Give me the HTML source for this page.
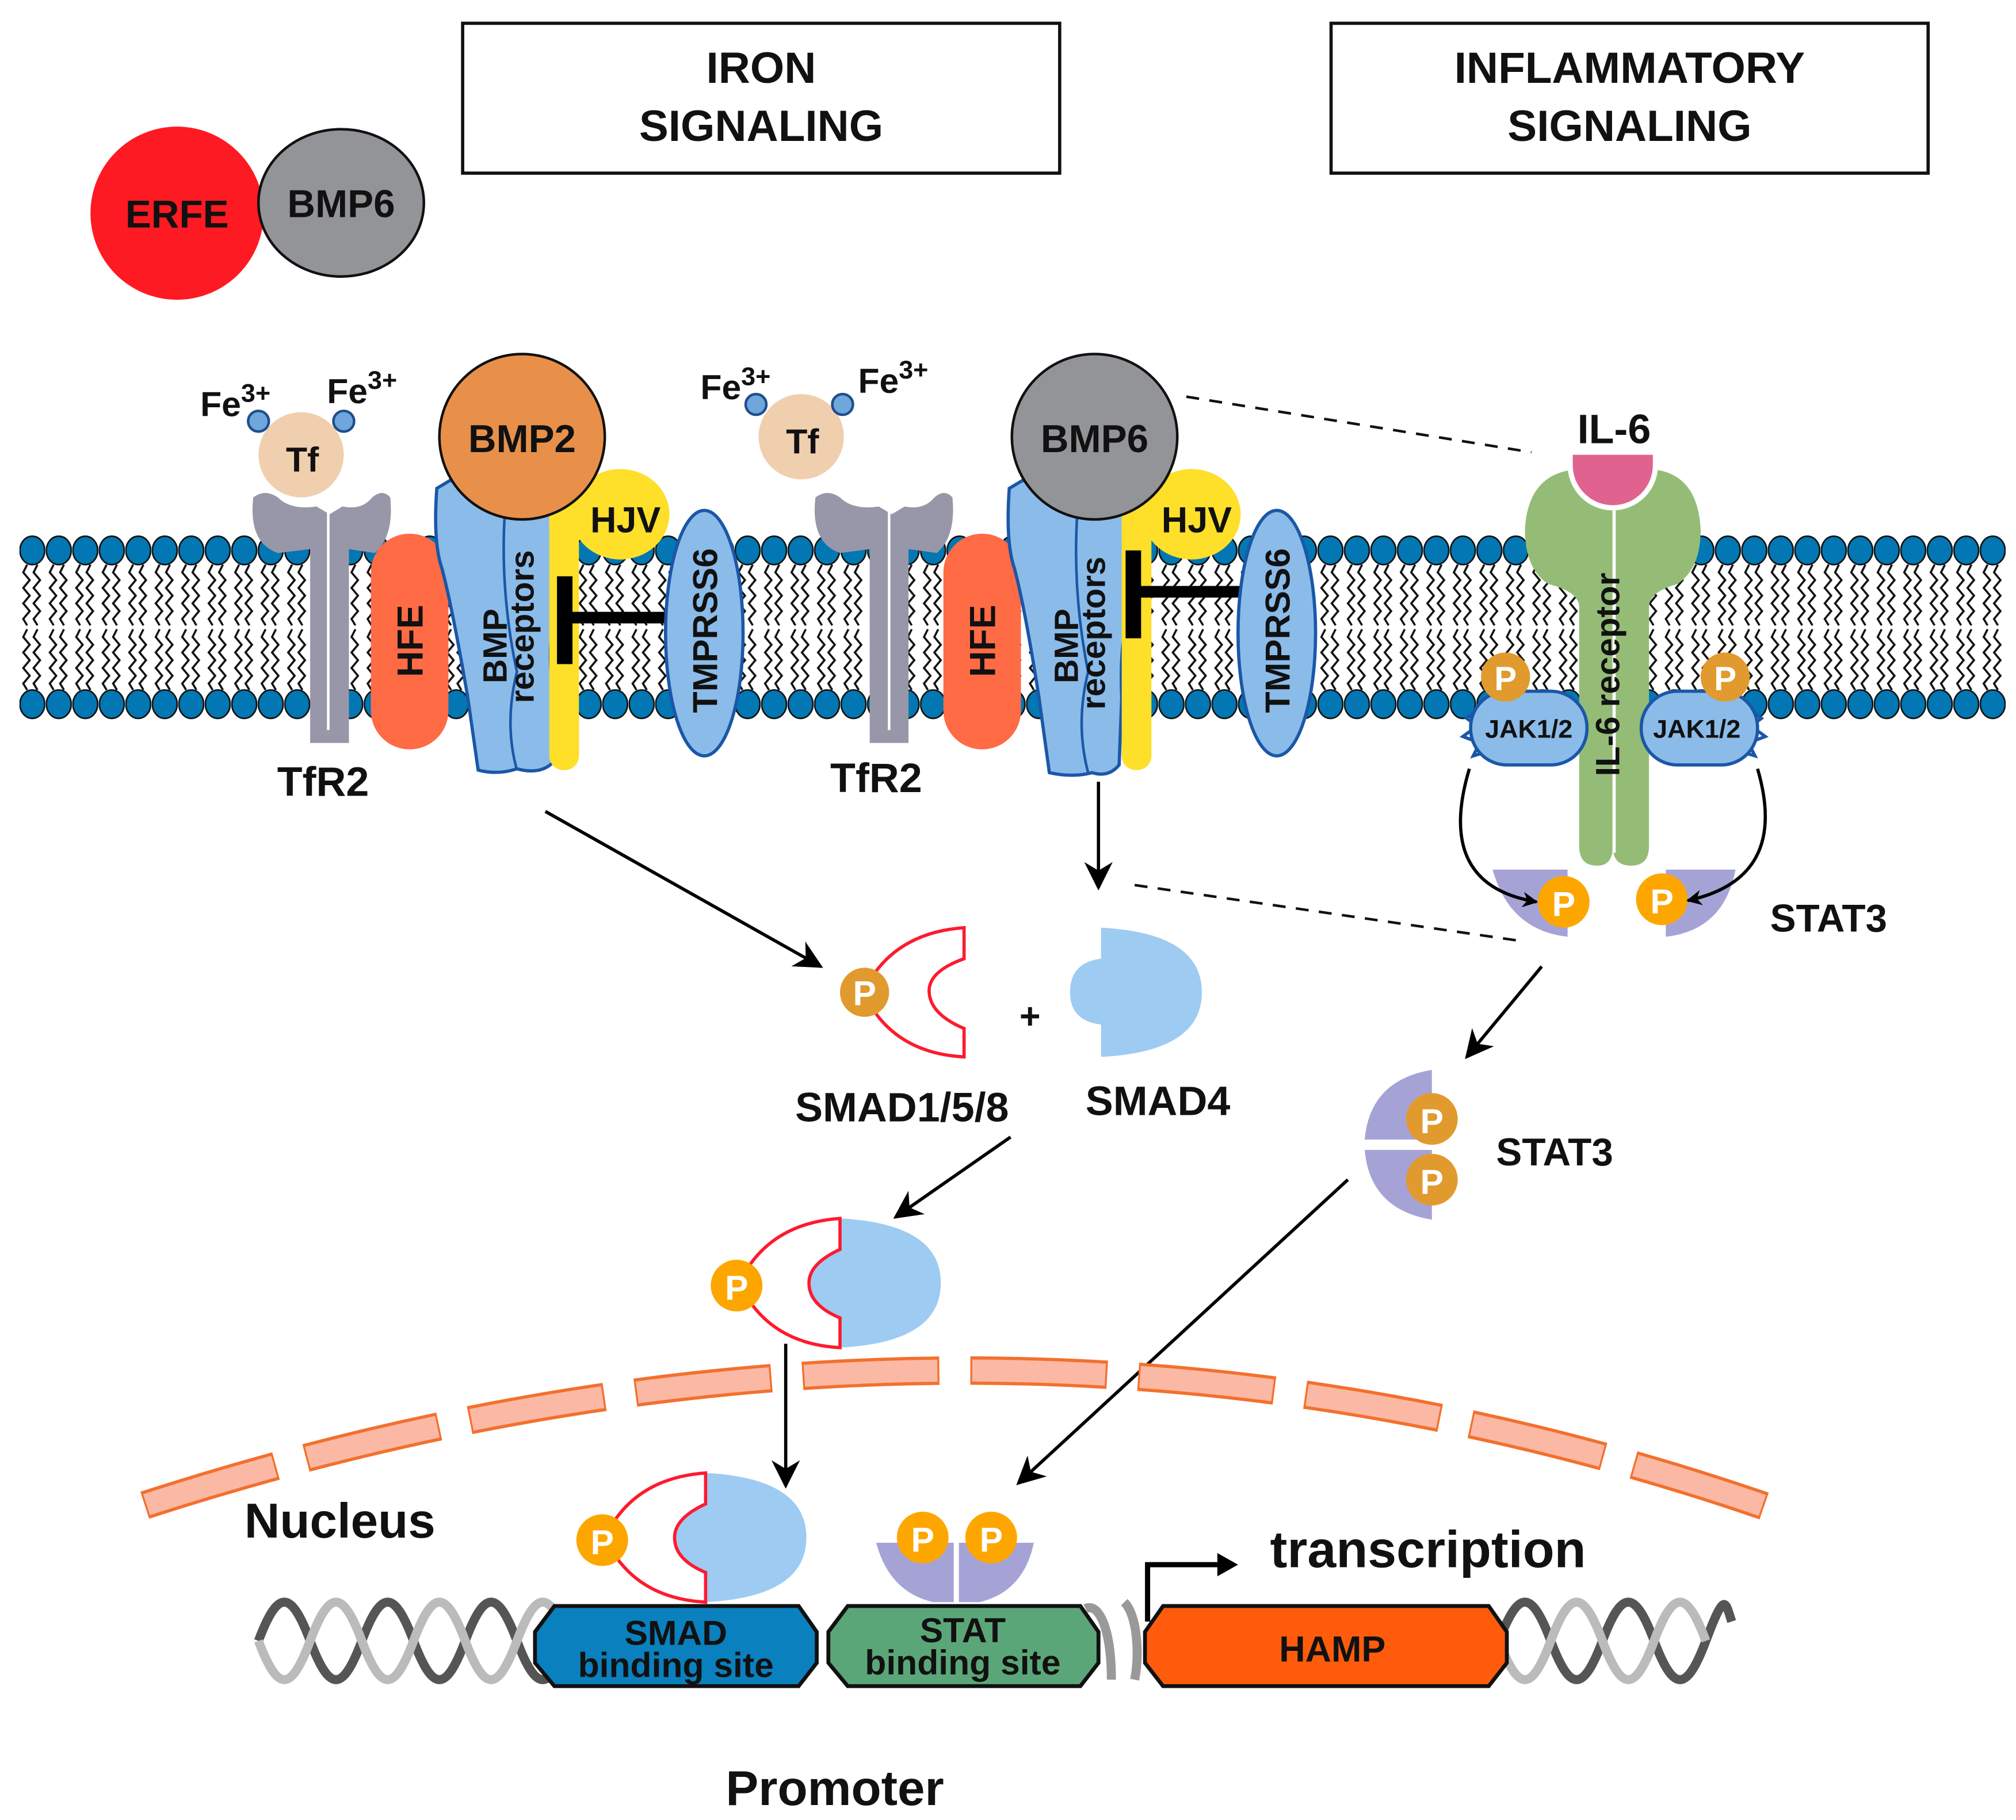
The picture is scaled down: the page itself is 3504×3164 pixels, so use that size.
<!DOCTYPE html>
<html><head><meta charset="utf-8"><style>
html,body{margin:0;padding:0;background:#fff}
svg{display:block}
text{font-family:"Liberation Sans",sans-serif;font-weight:bold;fill:#111}
</style></head><body>
<svg width="3504" height="3164" viewBox="0 0 1560 1408.6" xmlns="http://www.w3.org/2000/svg">
<defs>
<pattern id="mem" x="15" y="410" width="20.5" height="150" patternUnits="userSpaceOnUse">
<g fill="none" stroke="#111" stroke-width="1.6">
<path d="M6,27 L3,33 L8,39 L3,45 L8,51 L3,57 L8,63 L3,69 L6,74"/>
<path d="M14,27 L11,33 L16,39 L11,45 L16,51 L11,57 L16,63 L11,69 L14,74"/>
<path d="M6,77 L3,83 L8,89 L3,95 L8,101 L3,107 L8,113 L3,119 L6,124"/>
<path d="M14,77 L11,83 L16,89 L11,95 L16,101 L11,107 L16,113 L11,119 L14,124"/>
</g>
<ellipse cx="10" cy="16" rx="9.6" ry="11" fill="#0277b3" stroke="#111" stroke-width="1.2"/>
<ellipse cx="10" cy="135" rx="9.6" ry="11" fill="#0277b3" stroke="#111" stroke-width="1.2"/>
</pattern>
<marker id="ah" viewBox="0 0 10 10" refX="9" refY="5" markerWidth="12" markerHeight="12" orient="auto" markerUnits="userSpaceOnUse"><path d="M0,0 L10,5 L0,10 L3,5Z" fill="#000"/></marker>
<marker id="ah2" viewBox="0 0 10 10" refX="9" refY="5" markerWidth="22" markerHeight="22" orient="auto" markerUnits="userSpaceOnUse"><path d="M0,0 L10,5 L0,10 L3,5Z" fill="#000"/></marker>
</defs>

<rect x="358" y="18" width="462" height="116" fill="#fff" stroke="#111" stroke-width="2.5"/>
<text x="589" y="64" font-size="34" text-anchor="middle">IRON</text>
<text x="589" y="109" font-size="34" text-anchor="middle">SIGNALING</text>
<rect x="1030" y="18" width="462" height="116" fill="#fff" stroke="#111" stroke-width="2.5"/>
<text x="1261" y="64" font-size="34" text-anchor="middle">INFLAMMATORY</text>
<text x="1261" y="109" font-size="34" text-anchor="middle">SIGNALING</text>

<circle cx="137" cy="165" r="67" fill="#fe1a22"/>
<ellipse cx="264" cy="157" rx="64" ry="57" fill="#929497" stroke="#111" stroke-width="2"/>
<text x="137" y="176" font-size="30" text-anchor="middle">ERFE</text>
<text x="264" y="168" font-size="30" text-anchor="middle">BMP6</text>

<rect x="15" y="410" width="1537" height="150" fill="url(#mem)"/>

<path d="M918,307 L1185,350" stroke="#111" stroke-width="2" stroke-dasharray="10,8" fill="none"/>
<path d="M878,685 L1175,728" stroke="#111" stroke-width="2" stroke-dasharray="10,8" fill="none"/>

<g>
<path d="M196,385 Q192,420 215,428 L240,425 L240,575 L270,575 L270,425 L290,428 Q305,415 302,385 Q296,378 288,385 Q280,395 265,392 L255,398 L245,392 Q225,395 215,385 Q205,378 196,385Z" fill="#9797a9"/>
<path d="M254,396 L254,565" stroke="#fff" stroke-width="2"/>
<circle cx="233" cy="352" r="33" fill="#f0cfae"/>
<text x="234" y="365" font-size="27" text-anchor="middle">Tf</text>
<circle cx="200" cy="326" r="8" fill="#6fa7dd" stroke="#1f4e8c" stroke-width="2"/>
<circle cx="266" cy="326" r="8" fill="#6fa7dd" stroke="#1f4e8c" stroke-width="2"/>
<text x="155" y="322" font-size="27">Fe<tspan font-size="20" dy="-11">3+</tspan></text>
<text x="253" y="312" font-size="27">Fe<tspan font-size="20" dy="-11">3+</tspan></text>
<rect x="287" y="413" width="60" height="167" rx="30" fill="#fe6b45"/>
<text transform="translate(327,496) rotate(-90)" font-size="28" text-anchor="middle">HFE</text>
<path d="M338,378 L348,372 L440,372 L442,460 Q420,470 428,540 L428,590 Q418,600 400,595 Q385,600 370,596 L362,540 Q350,470 342,440 Q335,420 338,378Z" fill="#8bbbe8" stroke="#1a57a7" stroke-width="2.5"/>
<path d="M392,380 Q385,450 400,520 Q390,560 400,596" fill="none" stroke="#1a57a7" stroke-width="2"/>
<rect x="425" y="370" width="23" height="226" rx="11" fill="#fedf29"/>
<ellipse cx="480" cy="398" rx="38" ry="35" fill="#fedf29"/>
<path d="M448,372 L448,412 L425,412 L425,372Z" fill="#fedf29"/>
<circle cx="404" cy="338" r="64" fill="#e8904a" stroke="#111" stroke-width="2"/>
<text x="404" y="350" font-size="30" text-anchor="middle">BMP2</text>
<text x="484" y="412" font-size="28" text-anchor="middle">HJV</text>
<text transform="translate(392,500) rotate(-90)" font-size="26" text-anchor="middle">BMP</text>
<text transform="translate(413,485) rotate(-90)" font-size="26" text-anchor="middle">receptors</text>
<path d="M437,478 L520,478" stroke="#000" stroke-width="9"/>
<path d="M437,446 L437,514" stroke="#000" stroke-width="12"/>
<ellipse cx="545" cy="490" rx="30" ry="95" fill="#8bbbe8" stroke="#1a57a7" stroke-width="2.5"/>
<text transform="translate(555,488) rotate(-90)" font-size="27" text-anchor="middle">TMPRSS6</text>
<text x="250" y="616" font-size="32" text-anchor="middle">TfR2</text>
</g>

<g>
<path d="M631,385 Q627,420 650,428 L673,425 L673,575 L703,575 L703,425 L725,428 Q740,415 737,385 Q731,378 723,385 Q715,395 700,392 L690,398 L680,392 Q660,395 650,385 Q640,378 631,385Z" fill="#9797a9"/>
<path d="M688,396 L688,565" stroke="#fff" stroke-width="2"/>
<circle cx="620" cy="338" r="33" fill="#f0cfae"/>
<text x="621" y="351" font-size="27" text-anchor="middle">Tf</text>
<circle cx="585" cy="313" r="8" fill="#6fa7dd" stroke="#1f4e8c" stroke-width="2"/>
<circle cx="652" cy="313" r="8" fill="#6fa7dd" stroke="#1f4e8c" stroke-width="2"/>
<text x="542" y="309" font-size="27">Fe<tspan font-size="20" dy="-11">3+</tspan></text>
<text x="664" y="304" font-size="27">Fe<tspan font-size="20" dy="-11">3+</tspan></text>
<rect x="730" y="413" width="60" height="167" rx="30" fill="#fe6b45"/>
<text transform="translate(770,496) rotate(-90)" font-size="28" text-anchor="middle">HFE</text>
<path d="M781,378 L791,372 L885,372 L887,460 Q865,470 868,540 L866,592 Q858,602 845,598 Q830,602 812,598 L804,540 Q793,470 785,440 Q778,420 781,378Z" fill="#8bbbe8" stroke="#1a57a7" stroke-width="2.5"/>
<path d="M835,380 Q828,450 842,520 Q832,560 842,598" fill="none" stroke="#1a57a7" stroke-width="2"/>
<rect x="868" y="370" width="23" height="226" rx="11" fill="#fedf29"/>
<ellipse cx="922" cy="398" rx="38" ry="35" fill="#fedf29"/>
<path d="M891,372 L891,412 L868,412 L868,372Z" fill="#fedf29"/>
<circle cx="847" cy="338" r="64" fill="#929497" stroke="#111" stroke-width="2"/>
<text x="847" y="350" font-size="30" text-anchor="middle">BMP6</text>
<text x="926" y="412" font-size="28" text-anchor="middle">HJV</text>
<text transform="translate(834,500) rotate(-90)" font-size="26" text-anchor="middle">BMP</text>
<text transform="translate(855,490) rotate(-90)" font-size="26" text-anchor="middle">receptors</text>
<path d="M877,458 L960,458" stroke="#000" stroke-width="9"/>
<path d="M877,426 L877,494" stroke="#000" stroke-width="12"/>
<ellipse cx="988" cy="490" rx="30" ry="95" fill="#8bbbe8" stroke="#1a57a7" stroke-width="2.5"/>
<text transform="translate(998,488) rotate(-90)" font-size="27" text-anchor="middle">TMPRSS6</text>
<text x="678" y="613" font-size="32" text-anchor="middle">TfR2</text>
</g>

<path d="M1214,364 Q1182,370 1180,410 Q1180,440 1198,452 Q1222,458 1222,470 L1222,655 Q1222,670 1236,670 Q1248,670 1248,655 Q1248,670 1262,670 Q1276,670 1276,655 L1276,470 Q1276,458 1298,452 Q1316,440 1316,410 Q1314,370 1284,364Z" fill="#95bc76"/>
<path d="M1249,395 L1249,660" stroke="#fff" stroke-width="2.5"/>
<path d="M1215,350 L1281,350 L1281,360 A33,33 0 0 1 1215,360Z" fill="#e0638f" stroke="#fff" stroke-width="4"/>
<text x="1249" y="343" font-size="32" text-anchor="middle">IL-6</text>
<text transform="translate(1253,522) rotate(-90)" font-size="26" text-anchor="middle">IL-6 receptor</text>
<g fill="#8bbbe8" stroke="#1a57a7" stroke-width="2.5">
<path d="M1143,550 L1135,556 L1143,562 L1132,570 L1145,575 L1140,585 L1150,582" fill="#fff"/>
<path d="M1355,550 L1363,556 L1355,562 L1366,570 L1353,575 L1358,585 L1348,582" fill="#fff"/>
<rect x="1138" y="535" width="90" height="57" rx="28"/>
<rect x="1270" y="535" width="90" height="57" rx="28"/>
</g>
<text x="1183" y="571" font-size="20" text-anchor="middle">JAK1/2</text>
<text x="1313" y="571" font-size="20" text-anchor="middle">JAK1/2</text>
<circle cx="1165" cy="524" r="19" fill="#e19a2d"/>
<circle cx="1335" cy="524" r="19" fill="#e19a2d"/>
<text x="1165" y="534" font-size="26" text-anchor="middle" style="fill:#fff">P</text>
<text x="1335" y="534" font-size="26" text-anchor="middle" style="fill:#fff">P</text>
<path d="M1155,673 L1213,673 L1213,725 Q1168,720 1155,673Z" fill="#a5a3d6"/>
<path d="M1343,673 L1289,673 L1289,725 Q1334,720 1343,673Z" fill="#a5a3d6"/>
<circle cx="1210" cy="698" r="20" fill="#fea600"/>
<circle cx="1286" cy="696" r="20" fill="#fea600"/>
<text x="1210" y="709" font-size="27" text-anchor="middle" style="fill:#fff">P</text>
<text x="1286" y="707" font-size="27" text-anchor="middle" style="fill:#fff">P</text>
<path d="M1137,595 Q1110,685 1189,698" fill="none" stroke="#000" stroke-width="2.5" marker-end="url(#ah)"/>
<path d="M1360,595 Q1385,680 1306,697" fill="none" stroke="#000" stroke-width="2.5" marker-end="url(#ah)"/>
<text x="1415" y="721" font-size="30" text-anchor="middle">STAT3</text>

<path d="M422,628 L635,748" stroke="#000" stroke-width="2.5" marker-end="url(#ah2)"/>
<path d="M850,605 L850,687" stroke="#000" stroke-width="2.5" marker-end="url(#ah2)"/>
<path d="M1193,748 L1135,818" stroke="#000" stroke-width="2.5" marker-end="url(#ah2)"/>
<path d="M782,880 L693,942" stroke="#000" stroke-width="2.5" marker-end="url(#ah2)"/>
<path d="M608,1040 L608,1150" stroke="#000" stroke-width="2.5" marker-end="url(#ah2)"/>
<path d="M1043,913 L788,1148" stroke="#000" stroke-width="2.5" marker-end="url(#ah2)"/>

<path d="M746,718 L746,742 Q718,752 719,768 Q720,785 746,796 L746,818 Q690,815 668,768 Q690,722 746,718Z" fill="#fff" stroke="#fe1a2e" stroke-width="2.5"/>
<circle cx="669" cy="768" r="19" fill="#e19a2d"/>
<text x="669" y="778" font-size="27" text-anchor="middle" style="fill:#fff">P</text>
<text x="797" y="796" font-size="28" text-anchor="middle">+</text>
<path d="M852,718 Q930,722 930,768 Q930,814 852,818 L852,793 Q828,790 828,768 Q828,745 852,742Z" fill="#9ecbf2"/>
<text x="698" y="868" font-size="32" text-anchor="middle">SMAD1/5/8</text>
<text x="896" y="863" font-size="32" text-anchor="middle">SMAD4</text>

<g>
<path d="M650,943 Q728,947 728,993 Q728,1039 650,1043 L650,1020 Q626,1010 626,993 Q626,978 650,967Z" fill="#9ecbf2"/>
<path d="M650,943 L650,967 Q626,978 626,993 Q626,1010 650,1020 L650,1043 Q594,1040 572,993 Q594,947 650,943Z" fill="#fff" stroke="#fe1a2e" stroke-width="2.5"/>
<circle cx="570" cy="995" r="20" fill="#fea600"/>
<text x="570" y="1006" font-size="27" text-anchor="middle" style="fill:#fff">P</text>
</g>

<path d="M1108,828 L1108,882 L1056,882 Q1060,836 1108,828Z" fill="#a5a3d6"/>
<path d="M1108,944 L1108,890 L1056,890 Q1060,936 1108,944Z" fill="#a5a3d6"/>
<circle cx="1108" cy="866" r="20" fill="#e19a2d"/>
<circle cx="1108" cy="913" r="20" fill="#e19a2d"/>
<text x="1108" y="877" font-size="27" text-anchor="middle" style="fill:#fff">P</text>
<text x="1108" y="924" font-size="27" text-anchor="middle" style="fill:#fff">P</text>
<text x="1203" y="902" font-size="30" text-anchor="middle">STAT3</text>

<path d="M112,1165 Q760,955 1372,1168" fill="none" stroke="#f3702d" stroke-width="22" stroke-dasharray="106,24"/>
<path d="M112,1165 Q760,955 1372,1168" fill="none" stroke="#fbb9a5" stroke-width="17" stroke-dasharray="103,27" stroke-dashoffset="-1.5"/>
<text x="263" y="1190" font-size="38" text-anchor="middle">Nucleus</text>

<g fill="none" stroke-width="7">
<path d="M200,1270 C215,1230 225,1230 240,1270 S265,1310 280,1270 S305,1230 320,1270 S345,1310 360,1270 S385,1230 400,1270 S425,1310 440,1270" stroke="#555"/>
<path d="M200,1270 C215,1310 225,1310 240,1270 S265,1230 280,1270 S305,1310 320,1270 S345,1230 360,1270 S385,1310 400,1270 S425,1230 440,1270" stroke="#bbb"/>
<path d="M1160,1270 C1175,1230 1185,1230 1200,1270 S1225,1310 1240,1270 S1265,1230 1280,1270 S1305,1310 1320,1270 S1335,1240 1340,1255" stroke="#555"/>
<path d="M1160,1270 C1175,1310 1185,1310 1200,1270 S1225,1230 1240,1270 S1265,1310 1280,1270 S1305,1230 1320,1270" stroke="#bbb"/>
<path d="M840,1245 C850,1240 860,1260 860,1300 M870,1240 C880,1250 882,1280 878,1300" stroke="#999"/>
</g>
<path d="M429,1243 L618,1243 L632,1263 L632,1287 L618,1305 L429,1305 L414,1287 L414,1263Z" fill="#0a80bf" stroke="#111" stroke-width="3"/>
<path d="M656,1243 L836,1243 L850,1263 L850,1287 L836,1305 L656,1305 L641,1287 L641,1263Z" fill="#5ba678" stroke="#111" stroke-width="3"/>
<path d="M900,1243 L1152,1243 L1166,1263 L1166,1287 L1152,1305 L900,1305 L886,1287 L886,1263Z" fill="#fe5c0c" stroke="#111" stroke-width="3"/>
<text x="523" y="1273" font-size="27" text-anchor="middle">SMAD</text>
<text x="523" y="1298" font-size="27" text-anchor="middle">binding site</text>
<text x="745" y="1271" font-size="27" text-anchor="middle">STAT</text>
<text x="745" y="1296" font-size="27" text-anchor="middle">binding site</text>
<text x="1031" y="1286" font-size="28" text-anchor="middle">HAMP</text>

<g transform="translate(-104,197)">
<path d="M650,943 Q728,947 728,993 Q728,1039 650,1043 L650,1020 Q626,1010 626,993 Q626,978 650,967Z" fill="#9ecbf2"/>
<path d="M650,943 L650,967 Q626,978 626,993 Q626,1010 650,1020 L650,1043 Q594,1040 572,993 Q594,947 650,943Z" fill="#fff" stroke="#fe1a2e" stroke-width="2.5"/>
<circle cx="570" cy="995" r="20" fill="#fea600"/>
<text x="570" y="1006" font-size="27" text-anchor="middle" style="fill:#fff">P</text>
</g>

<path d="M678,1194 L738,1194 L738,1240 L722,1240 Q688,1232 678,1194Z" fill="#a5a3d6"/>
<path d="M800,1194 L742,1194 L742,1240 L758,1240 Q792,1232 800,1194Z" fill="#a5a3d6"/>
<circle cx="714" cy="1190" r="20" fill="#fea600"/>
<circle cx="767" cy="1190" r="20" fill="#fea600"/>
<text x="714" y="1201" font-size="27" text-anchor="middle" style="fill:#fff">P</text>
<text x="767" y="1201" font-size="27" text-anchor="middle" style="fill:#fff">P</text>

<path d="M888,1255 L888,1211 L945,1211" fill="none" stroke="#000" stroke-width="4"/>
<path d="M942,1202 L958,1211 L942,1220Z" fill="#000"/>
<text x="1105" y="1213" font-size="40" text-anchor="middle">transcription</text>
<text x="646" y="1397" font-size="38" text-anchor="middle">Promoter</text>
</svg>
</body></html>
